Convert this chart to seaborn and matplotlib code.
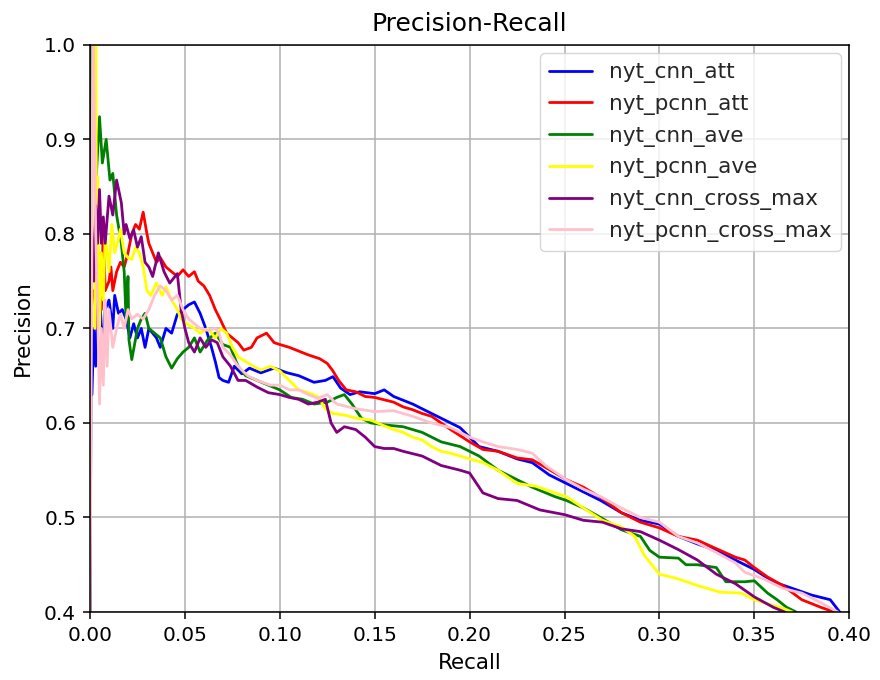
import numpy as np
import pandas as pd
import matplotlib
matplotlib.use("Agg")
import matplotlib.pyplot as plt
import seaborn as sns

series_names = ["nyt_cnn_att", "nyt_pcnn_att", "nyt_cnn_ave", "nyt_pcnn_ave",
                "nyt_cnn_cross_max", "nyt_pcnn_cross_max"]
series_colors = ["blue", "red", "green", "yellow", "purple", "pink"]

cnn_att_recall = [0.0, 0.0005, 0.001, 0.002, 0.003, 0.004, 0.005, 0.006, 0.007, 0.008, 0.010, 0.012,
                  0.013, 0.015, 0.017, 0.019, 0.021, 0.023, 0.025, 0.027, 0.029, 0.031, 0.033, 0.035,
                  0.037, 0.040, 0.043, 0.046, 0.049, 0.052, 0.055, 0.058, 0.061, 0.064, 0.066, 0.068,
                  0.070, 0.073, 0.076, 0.080, 0.084, 0.090, 0.097, 0.104, 0.110, 0.118, 0.124, 0.128,
                  0.132, 0.137, 0.142, 0.150, 0.155, 0.160, 0.170, 0.180, 0.190, 0.195, 0.205, 0.215,
                  0.225, 0.233, 0.242, 0.251, 0.260, 0.269, 0.280, 0.290, 0.300, 0.310, 0.320, 0.330,
                  0.340, 0.350, 0.360, 0.370, 0.380, 0.390, 0.395, 0.397]
cnn_att_precision = [0.38, 0.63, 0.63, 0.70, 0.66, 0.72, 0.74, 0.70, 0.685, 0.72, 0.73, 0.70,
                     0.735, 0.716, 0.72, 0.71, 0.69, 0.705, 0.69, 0.70, 0.68, 0.70, 0.695, 0.69,
                     0.68, 0.70, 0.695, 0.715, 0.72, 0.725, 0.728, 0.716, 0.70, 0.68, 0.665, 0.648,
                     0.645, 0.643, 0.66, 0.652, 0.658, 0.653, 0.658, 0.653, 0.650, 0.643, 0.645, 0.649,
                     0.637, 0.630, 0.633, 0.631, 0.635, 0.628, 0.620, 0.610, 0.600, 0.595, 0.575, 0.570,
                     0.562, 0.558, 0.545, 0.536, 0.527, 0.518, 0.505, 0.497, 0.493, 0.480, 0.472, 0.465,
                     0.455, 0.445, 0.432, 0.425, 0.418, 0.413, 0.400, 0.390]

pcnn_att_recall = [0.002, 0.004, 0.005, 0.006, 0.007, 0.008, 0.010, 0.011, 0.012, 0.014, 0.016, 0.018,
                   0.020, 0.022, 0.024, 0.026, 0.028, 0.030, 0.031, 0.033, 0.035, 0.037, 0.040, 0.043,
                   0.046, 0.049, 0.052, 0.055, 0.057, 0.060, 0.063, 0.066, 0.069, 0.072, 0.075, 0.078,
                   0.081, 0.085, 0.088, 0.093, 0.097, 0.100, 0.105, 0.110, 0.115, 0.121, 0.125, 0.128,
                   0.131, 0.135, 0.140, 0.145, 0.150, 0.160, 0.165, 0.170, 0.175, 0.180, 0.185, 0.190,
                   0.200, 0.207, 0.215, 0.225, 0.233, 0.240, 0.251, 0.260, 0.270, 0.280, 0.290, 0.300,
                   0.310, 0.320, 0.330, 0.340, 0.345, 0.350, 0.357, 0.365, 0.375, 0.385, 0.392, 0.395]
pcnn_att_precision = [0.74, 0.70, 0.78, 0.72, 0.81, 0.74, 0.75, 0.765, 0.74, 0.76, 0.77, 0.765,
                      0.78, 0.80, 0.81, 0.805, 0.823, 0.80, 0.79, 0.78, 0.77, 0.775, 0.765, 0.76,
                      0.755, 0.762, 0.755, 0.76, 0.75, 0.745, 0.735, 0.72, 0.708, 0.695, 0.69, 0.685,
                      0.677, 0.68, 0.69, 0.695, 0.685, 0.683, 0.68, 0.676, 0.672, 0.668, 0.663, 0.655,
                      0.645, 0.635, 0.633, 0.628, 0.627, 0.622, 0.617, 0.614, 0.610, 0.607, 0.600, 0.593,
                      0.580, 0.572, 0.570, 0.563, 0.561, 0.553, 0.540, 0.532, 0.520, 0.505, 0.495, 0.489,
                      0.480, 0.476, 0.467, 0.458, 0.455, 0.447, 0.437, 0.428, 0.413, 0.405, 0.400, 0.390]

cnn_ave_recall = [0.0, 0.0005, 0.002, 0.003, 0.005, 0.0065, 0.0085, 0.0105, 0.012, 0.014, 0.0165, 0.018,
                  0.019, 0.020, 0.0205, 0.022, 0.025, 0.027, 0.029, 0.031, 0.034, 0.037, 0.040, 0.043,
                  0.046, 0.049, 0.052, 0.055, 0.058, 0.062, 0.066, 0.070, 0.074, 0.078, 0.082, 0.088,
                  0.094, 0.100, 0.106, 0.112, 0.118, 0.125, 0.130, 0.134, 0.138, 0.143, 0.148, 0.155,
                  0.165, 0.175, 0.185, 0.195, 0.205, 0.215, 0.225, 0.233, 0.245, 0.251, 0.260, 0.269,
                  0.280, 0.290, 0.295, 0.300, 0.310, 0.314, 0.320, 0.330, 0.335, 0.345, 0.350, 0.357,
                  0.362, 0.367, 0.372, 0.375]
cnn_ave_precision = [0.38, 1.05, 0.88, 0.85, 0.924, 0.875, 0.90, 0.857, 0.864, 0.82, 0.79, 0.76,
                     0.71, 0.755, 0.688, 0.667, 0.70, 0.71, 0.716, 0.70, 0.695, 0.69, 0.67, 0.658,
                     0.668, 0.675, 0.68, 0.69, 0.675, 0.688, 0.695, 0.683, 0.68, 0.66, 0.65, 0.645,
                     0.64, 0.635, 0.627, 0.625, 0.62, 0.622, 0.627, 0.63, 0.62, 0.605, 0.60, 0.598,
                     0.596, 0.59, 0.58, 0.575, 0.565, 0.55, 0.54, 0.532, 0.522, 0.518, 0.51, 0.50,
                     0.487, 0.48, 0.465, 0.458, 0.457, 0.45, 0.45, 0.447, 0.432, 0.432, 0.433, 0.42,
                     0.413, 0.405, 0.40, 0.39]

pcnn_ave_recall = [0.0025, 0.003, 0.0035, 0.004, 0.005, 0.006, 0.007, 0.008, 0.010, 0.0115, 0.013, 0.015,
                   0.016, 0.018, 0.020, 0.022, 0.024, 0.026, 0.028, 0.030, 0.032, 0.035, 0.038, 0.040,
                   0.043, 0.046, 0.048, 0.051, 0.055, 0.058, 0.062, 0.066, 0.069, 0.072, 0.075, 0.078,
                   0.082, 0.086, 0.090, 0.095, 0.100, 0.105, 0.110, 0.115, 0.120, 0.124, 0.128, 0.135,
                   0.140, 0.148, 0.155, 0.160, 0.165, 0.170, 0.175, 0.180, 0.185, 0.190, 0.200, 0.207,
                   0.215, 0.225, 0.235, 0.245, 0.251, 0.260, 0.270, 0.280, 0.287, 0.292, 0.296, 0.300,
                   0.310, 0.320, 0.332, 0.343, 0.350, 0.355, 0.365, 0.370, 0.372]
pcnn_ave_precision = [0.70, 1.05, 0.75, 0.86, 0.70, 0.78, 0.73, 0.80, 0.76, 0.81, 0.78, 0.795,
                      0.805, 0.78, 0.775, 0.773, 0.786, 0.78, 0.765, 0.74, 0.735, 0.748, 0.735, 0.744,
                      0.73, 0.72, 0.71, 0.705, 0.70, 0.695, 0.70, 0.69, 0.70, 0.695, 0.68, 0.67,
                      0.665, 0.66, 0.656, 0.66, 0.655, 0.645, 0.635, 0.632, 0.628, 0.615, 0.61, 0.608,
                      0.605, 0.603, 0.597, 0.593, 0.59, 0.585, 0.582, 0.575, 0.57, 0.568, 0.562, 0.558,
                      0.55, 0.536, 0.533, 0.526, 0.522, 0.51, 0.497, 0.49, 0.48, 0.46, 0.45, 0.44,
                      0.435, 0.428, 0.421, 0.42, 0.413, 0.41, 0.404, 0.40, 0.39]

cnn_cross_max_recall = [0.0, 0.0005, 0.001, 0.002, 0.003, 0.004, 0.005, 0.006, 0.007, 0.008, 0.010, 0.012,
                        0.014, 0.0165, 0.018, 0.019, 0.021, 0.023, 0.025, 0.027, 0.029, 0.031, 0.033, 0.036,
                        0.039, 0.042, 0.046, 0.048, 0.050, 0.052, 0.055, 0.058, 0.061, 0.064, 0.067, 0.070,
                        0.074, 0.078, 0.082, 0.088, 0.094, 0.100, 0.105, 0.110, 0.115, 0.120, 0.124, 0.127,
                        0.130, 0.134, 0.140, 0.145, 0.150, 0.155, 0.160, 0.165, 0.175, 0.185, 0.195, 0.200,
                        0.207, 0.215, 0.225, 0.237, 0.250, 0.260, 0.270, 0.280, 0.290, 0.300, 0.310, 0.320,
                        0.330, 0.340, 0.350, 0.360, 0.366, 0.370]
cnn_cross_max_precision = [0.38, 0.83, 0.80, 0.75, 0.83, 0.79, 0.847, 0.79, 0.818, 0.79, 0.84, 0.82,
                           0.857, 0.833, 0.80, 0.81, 0.795, 0.804, 0.786, 0.797, 0.77, 0.765, 0.755, 0.78,
                           0.76, 0.748, 0.758, 0.72, 0.70, 0.685, 0.675, 0.69, 0.68, 0.688, 0.685, 0.67,
                           0.66, 0.645, 0.645, 0.638, 0.632, 0.63, 0.627, 0.625, 0.62, 0.622, 0.625, 0.60,
                           0.59, 0.596, 0.593, 0.585, 0.575, 0.573, 0.573, 0.57, 0.565, 0.555, 0.55, 0.547,
                           0.526, 0.52, 0.518, 0.508, 0.503, 0.497, 0.495, 0.488, 0.485, 0.476, 0.466, 0.455,
                           0.44, 0.43, 0.416, 0.405, 0.40, 0.39]

pcnn_cross_max_recall = [0.0, 0.001, 0.0015, 0.003, 0.004, 0.005, 0.006, 0.007, 0.008, 0.009, 0.010, 0.012,
                         0.014, 0.016, 0.018, 0.020, 0.022, 0.025, 0.028, 0.031, 0.034, 0.037, 0.040, 0.043,
                         0.046, 0.049, 0.052, 0.055, 0.058, 0.062, 0.066, 0.068, 0.070, 0.074, 0.078, 0.083,
                         0.088, 0.095, 0.100, 0.105, 0.110, 0.115, 0.120, 0.125, 0.130, 0.140, 0.150, 0.160,
                         0.170, 0.180, 0.190, 0.200, 0.207, 0.215, 0.225, 0.233, 0.240, 0.251, 0.260, 0.269,
                         0.280, 0.290, 0.300, 0.310, 0.320, 0.330, 0.340, 0.345, 0.355, 0.365, 0.375, 0.385,
                         0.394, 0.396]
pcnn_cross_max_precision = [0.38, 0.80, 1.05, 0.80, 0.72, 0.62, 0.70, 0.64, 0.73, 0.66, 0.72, 0.68,
                            0.70, 0.715, 0.70, 0.72, 0.71, 0.715, 0.71, 0.72, 0.735, 0.745, 0.74, 0.73,
                            0.735, 0.72, 0.71, 0.705, 0.70, 0.698, 0.70, 0.695, 0.68, 0.672, 0.66, 0.65,
                            0.645, 0.64, 0.64, 0.635, 0.635, 0.63, 0.626, 0.63, 0.62, 0.615, 0.612, 0.613,
                            0.607, 0.60, 0.595, 0.585, 0.58, 0.575, 0.572, 0.568, 0.555, 0.54, 0.53, 0.522,
                            0.51, 0.50, 0.495, 0.48, 0.473, 0.463, 0.452, 0.442, 0.435, 0.425, 0.42, 0.41,
                            0.40, 0.39]

all_recall = [cnn_att_recall, pcnn_att_recall, cnn_ave_recall, pcnn_ave_recall,
              cnn_cross_max_recall, pcnn_cross_max_recall]
all_precision = [cnn_att_precision, pcnn_att_precision, cnn_ave_precision, pcnn_ave_precision,
                 cnn_cross_max_precision, pcnn_cross_max_precision]

frames = []
for name, r, p in zip(series_names, all_recall, all_precision):
    frames.append(pd.DataFrame({"Recall": r, "Precision": p, "model": name}))
df = pd.concat(frames, ignore_index=True)

sns.set_theme(style="ticks", rc={
    "axes.grid": True,
    "grid.color": "#b0b0b0",
    "grid.linewidth": 1.1,
    "axes.edgecolor": "black",
    "axes.linewidth": 1.1,
    "xtick.major.size": 5,
    "ytick.major.size": 5,
    "xtick.major.width": 1.1,
    "ytick.major.width": 1.1,
})
plt.rcParams["font.family"] = ["DejaVu Sans"]

fig = plt.figure(figsize=(8.8, 6.8), dpi=100)
ax = fig.add_axes([0.1023, 0.1, 0.8627, 0.834])

sns.lineplot(data=df, x="Recall", y="Precision", hue="model", hue_order=series_names,
             palette=dict(zip(series_names, series_colors)), sort=False, estimator=None,
             units="model", linewidth=2.0, ax=ax)

ax.set_xlim(0.0, 0.40)
ax.set_ylim(0.4, 1.0)
ax.set_xticks(np.arange(0, 0.401, 0.05))
ax.set_yticks(np.arange(0.4, 1.001, 0.1))
ax.set_xticklabels([f"{v:.2f}" for v in np.arange(0, 0.401, 0.05)])
ax.set_yticklabels([f"{v:.1f}" for v in np.arange(0.4, 1.001, 0.1)])
ax.tick_params(labelsize=14.5, colors="black", pad=5)
ax.set_xlabel("Recall", fontsize=15.5, color="black", labelpad=6)
ax.set_ylabel("Precision", fontsize=15.5, color="black", labelpad=8)
ax.set_title("Precision-Recall", fontsize=18, color="black", pad=10)
for s in ax.spines.values():
    s.set_visible(True)
    s.set_color("black")

leg = ax.legend(loc="upper right", fontsize=15.5, frameon=True, framealpha=0.8,
                edgecolor="#cccccc", fancybox=True, handlelength=2.0, borderaxespad=0.4)
for line in leg.get_lines():
    line.set_linewidth(2.0)

fig.savefig("out.png", dpi=100)
